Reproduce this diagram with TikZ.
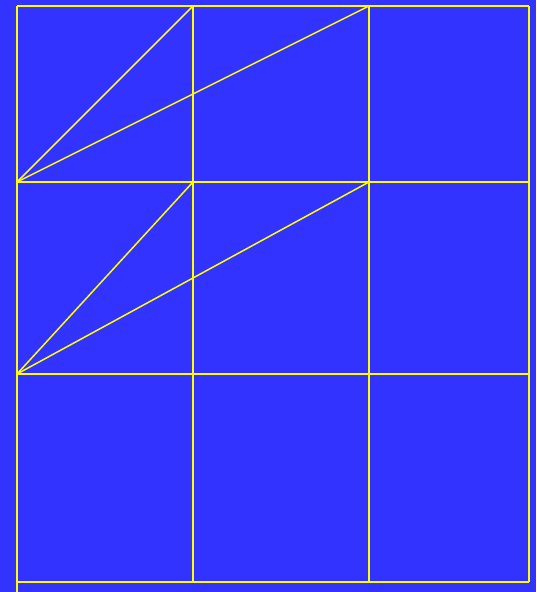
\documentclass[tikz,border=0pt]{standalone}
\definecolor{bgblue}{RGB}{51,51,255}
\definecolor{lineyellow}{RGB}{255,255,0}
\tikzset{gridline/.style={draw=lineyellow, line width=1.5pt}}
\begin{document}
\begin{tikzpicture}[x=1pt, y=-1pt]
        \fill[bgblue] (0,0) rectangle (536,592);
        \useasboundingbox (0,0) rectangle (536,592);
        \coordinate (a1) at (17,6);
        \coordinate (a2) at (193,6);
        \coordinate (a3) at (369,6);
        \coordinate (a4) at (529,6);
        \coordinate (b1) at (17,182);
        \coordinate (b2) at (193,182);
        \coordinate (b3) at (369,182);
        \coordinate (b4) at (529,182);
        \coordinate (c1) at (17,374);
        \coordinate (c2) at (193,374);
        \coordinate (c3) at (369,374);
        \coordinate (c4) at (529,374);
        \coordinate (d1) at (17,582);
        \coordinate (d2) at (193,582);
        \coordinate (d3) at (369,582);
        \coordinate (d4) at (529,582);
        \coordinate (e1) at (17,592);

        \draw[gridline] (a1)--(a4);
        \draw[gridline] (b1)--(b4);
        \draw[gridline] (c1)--(c4);
        \draw[gridline] (d1)--(d4);
        \draw[gridline] (a1)--(e1);
        \draw[gridline] (a2)--(d2);
        \draw[gridline] (a3)--(d3);
        \draw[gridline] (a4)--(d4);
        \draw[gridline] (b1)--(a2);
        \draw[gridline] (b1)--(a3);
        \draw[gridline] (c1)--(b2);
        \draw[gridline] (c1)--(b3);
      \end{tikzpicture}
\end{document}
